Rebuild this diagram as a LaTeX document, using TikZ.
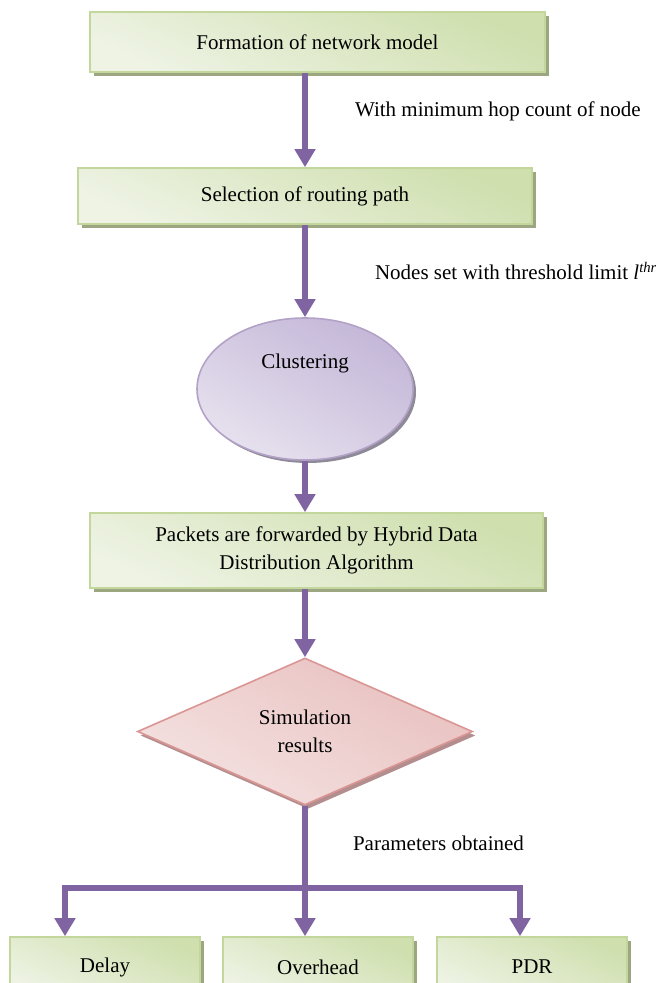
\documentclass[tikz,border=0pt]{standalone}
\usepackage{fontspec}
\setmainfont{Liberation Serif}
\usepackage{tikz}
\usetikzlibrary{shapes.geometric,shadows,arrows.meta}
\definecolor{gLight}{HTML}{EEF3E4}
\definecolor{gDark}{HTML}{CFDFAE}
\definecolor{gLine}{HTML}{C3D69B}
\definecolor{gShade}{HTML}{9CA782}
\definecolor{pLight}{HTML}{E6E1EE}
\definecolor{pDark}{HTML}{C4B7D8}
\definecolor{pLine}{HTML}{B3A2C7}
\definecolor{pShade}{HTML}{8E8A98}
\definecolor{rLight}{HTML}{F4E2E1}
\definecolor{rDark}{HTML}{E8C1C0}
\definecolor{rLine}{HTML}{D99694}
\definecolor{rShade}{HTML}{B48E8E}
\definecolor{arrowc}{HTML}{8064A2}
\tikzset{
    every node/.style={font=\fontsize{10.5}{14}\selectfont}
}
\tikzset{
    greenbox/.style={rectangle, draw=gLine, line width=0.8pt,
        top color=gDark, bottom color=gLight, shading angle=-25,
        drop shadow={shadow xshift=2pt, shadow yshift=-2pt, fill=gShade, opacity=1},
        align=center, inner sep=0pt},
    clusterell/.style={ellipse, draw=pLine, line width=0.8pt,
        top color=pDark, bottom color=pLight, shading angle=-30,
        drop shadow={shadow xshift=1.5pt, shadow yshift=-1.5pt, fill=pShade, opacity=1},
        minimum width=108pt, minimum height=71pt, inner sep=0pt},
    simdiamond/.style={diamond, aspect=2.3, draw=rLine, line width=0.8pt,
        top color=rDark, bottom color=rLight, shading angle=-30,
        drop shadow={shadow xshift=1.5pt, shadow yshift=-2pt, fill=rShade, opacity=1},
        minimum width=167.5pt, minimum height=73.5pt, inner sep=0pt, align=center},
    flow/.style={draw=arrowc, line width=2.6pt, -{Triangle[width=10pt,length=9pt]}},
    flowline/.style={draw=arrowc, line width=2.6pt}
}

\begin{document}
\begin{tikzpicture}[x=0.5pt,y=-0.5pt]
	\useasboundingbox (0,0) rectangle (656,983);
	\clip (0,0) rectangle (656,983);
	\node[greenbox, minimum width=227.5pt, minimum height=30pt] (1) at (317.5,42) {Formation of network model};
	\node[greenbox, minimum width=227pt, minimum height=28pt] (2) at (305,196) {Selection of routing path};
	\node[clusterell, text height=7pt, text depth=27pt] (3) at (305,389) {Clustering};
	\node[greenbox, minimum width=226.5pt, minimum height=37.5pt] (4) at (316.5,550.5)
		{Packets are forwarded by Hybrid Data\\Distribution Algorithm};
	\node[simdiamond] (5) at (305,731.5) {Simulation\\results};
	\node[greenbox, minimum width=95pt, minimum height=30pt] (6) at (105,967) {Delay};
	\node[greenbox, minimum width=95pt, minimum height=30pt] (7) at (318,967) {Overhead};
	\node[greenbox, minimum width=95pt, minimum height=30pt] (8) at (532,967) {PDR};

	\node[anchor=west] (t1) at (348,111) {With minimum hop count of node};
	\node[anchor=west] (t2) at (368,271) {Nodes set with threshold limit \textit{l}\textsuperscript{\textit{thr}}};
	\node[anchor=west] (t3) at (346,843) {Parameters obtained};

	\coordinate (s) at (305,888);
	\coordinate (sl) at (65,888);
	\coordinate (sr) at (520,888);

	\draw[flow] (1.south -| 2.north) -- (2.north);
	\draw[flow] (2.south) -- (3.north);
	\draw[flow] (3.south) -- (3.south |- 4.north);
	\draw[flow] (4.south -| 5.north) -- (5.north);
	\draw[flowline] (5.south) -- (s);
	\draw[flowline] ([xshift=-1.3pt]sl) -- ([xshift=1.3pt]sr);
	\draw[flow] (sl) -- (sl |- 6.north);
	\draw[flow] (s) -- (s |- 7.north);
	\draw[flow] (sr) -- (sr |- 8.north);
\end{tikzpicture}
\end{document}
